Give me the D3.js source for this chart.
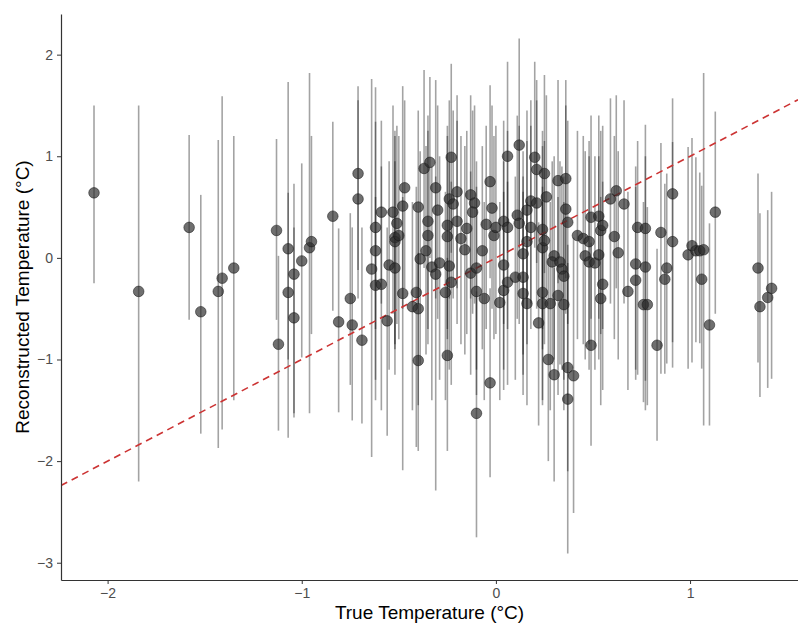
<!DOCTYPE html>
<html>
<head>
<meta charset="utf-8">
<script src="https://cdn.jsdelivr.net/npm/d3@7"></script>
<style>
  body { margin: 0; background: #fff; }
  svg { display: block; font-family: "Liberation Sans", Arial, Helvetica, sans-serif; }
  .tick text { fill: #4d4d4d; font-size: 14px; }
  .tick line, .domain { stroke: #333; }
</style>
</head>
<body>
<div class="container"></div>
<script>
// true temperature anomaly (x), reconstructed value (y) and its interval
var trueTemp = [
  -2.07, -1.84, -1.58, -1.52, -1.43, -1.41, -1.35, -1.13, -1.12, -1.07, -1.07, -1.04, -1.04, -1.00, -0.96, -0.95,
  -0.84, -0.81, -0.75, -0.74, -0.71, -0.71, -0.69, -0.64, -0.62, -0.62, -0.62, -0.59, -0.59, -0.56, -0.55, -0.53,
  -0.52, -0.52, -0.52, -0.51, -0.50, -0.48, -0.48, -0.47, -0.43, -0.41, -0.40, -0.40, -0.39, -0.40, -0.37, -0.34,
  -0.36, -0.35, -0.35, -0.31, -0.33, -0.30, -0.29, -0.31, -0.26, -0.25, -0.25, -0.25, -0.24, -0.24, -0.23, -0.23,
  -0.22, -0.20, -0.20, -0.18, -0.16, -0.15, -0.13, -0.13, -0.11, -0.12, -0.10, -0.10, -0.10, -0.07, -0.06, -0.05,
  -0.03, -0.02, -0.03, -0.01, 0.00, 0.02, 0.04, 0.04, 0.04, 0.06, 0.06, 0.06, 0.10, 0.11, 0.12, 0.12,
  0.14, 0.14, 0.14, 0.16, 0.16, 0.16, 0.18, 0.18, 0.20, 0.21, 0.21, 0.22, 0.24, 0.24, 0.24, 0.24,
  0.25, 0.25, 0.26, 0.27, 0.28, 0.30, 0.29, 0.30, 0.32, 0.32, 0.33, 0.34, 0.35, 0.35, 0.36, 0.36,
  0.37, 0.37, 0.37, 0.40, 0.42, 0.45, 0.46, 0.48, 0.48, 0.49, 0.49, 0.51, 0.53, 0.53, 0.54, 0.55,
  0.55, 0.54, 0.59, 0.61, 0.62, 0.63, 0.66, 0.68, 0.73, 0.77, 0.72, 0.77, 0.72, 0.76, 0.78, 0.83,
  0.85, 0.91, 0.91, 0.88, 0.87, 0.99, 1.01, 1.03, 1.05, 1.07, 1.06, 1.10, 1.13, 1.35, 1.36, 1.40, 1.42
];
var reconTemp = [
  0.64, -0.33, 0.30, -0.53, -0.33, -0.20, -0.10, 0.27, -0.85, 0.09, -0.34, -0.16, -0.59, -0.03, 0.10, 0.16,
  0.41, -0.63, -0.40, -0.66, 0.83, 0.58, -0.81, -0.11, 0.07, 0.30, -0.27, -0.26, 0.45, -0.62, -0.07, 0.45,
  0.20, 0.16, -0.10, 0.34, 0.22, -0.35, 0.51, 0.69, -0.48, -0.34, 0.50, -1.01, -0.01, -0.50, 0.88, 0.94,
  0.07, 0.36, 0.22, 0.69, -0.09, 0.47, -0.05, -0.16, -0.34, -0.96, 0.32, 0.21, 0.58, -0.08, 0.99, -0.24,
  0.53, 0.65, 0.36, 0.19, 0.08, 0.29, 0.62, -0.15, 0.54, 0.45, -0.10, -0.33, -1.53, 0.07, -0.40, 0.33,
  0.75, 0.49, -1.23, 0.22, 0.30, -0.44, -0.32, 0.36, -0.07, 1.00, 0.30, -0.24, -0.19, 0.42, 1.11, 0.34,
  -0.19, -0.35, 0.04, 0.47, 0.16, -0.45, 0.56, 0.30, 0.99, 0.87, 0.54, -0.64, -0.34, 0.28, 0.10, -0.45,
  0.83, 0.17, 0.60, -1.00, -0.45, 0.02, -0.04, -1.15, 0.76, -0.37, -0.04, -0.11, -0.46, -0.18, 0.78, 0.48,
  0.35, -1.08, -1.39, -1.16, 0.22, 0.19, 0.02, 0.16, -0.04, 0.40, -0.86, -0.05, 0.41, 0.03, 0.27, 0.32,
  -0.26, -0.40, 0.58, 0.21, 0.66, 0.05, 0.53, -0.33, 0.30, 0.29, -0.06, -0.09, -0.22, -0.46, -0.46, -0.86,
  0.25, 0.16, 0.63, -0.10, -0.21, 0.03, 0.12, 0.07, 0.07, 0.08, -0.21, -0.66, 0.45, -0.10, -0.48, -0.39, -0.30
];
var lowerCI = [
  -0.25, -2.20, -0.61, -1.73, -1.87, -1.69, -1.40, -0.61, -1.70, -1.00, -1.77, -1.57, -1.53, -0.98, -1.53, -0.75,
  -0.52, -1.52, -1.25, -1.60, -0.12, -0.40, -1.63, -1.96, -1.40, -0.70, -1.20, -1.50, -0.45, -1.75, -1.10, -0.55,
  -0.85, -0.90, -1.15, -0.65, -0.80, -2.09, -0.50, -0.30, -1.50, -1.86, -0.45, -1.90, -1.05, -1.45, -0.10, 0.00,
  -0.95, -0.70, -0.85, -0.40, -1.40, -0.60, -1.20, -2.29, -1.40, -1.90, -0.70, -0.80, -0.40, -1.10, 0.05, -1.25,
  -0.40, -0.30, -0.65, -0.85, -0.95, -0.75, -0.40, -1.15, -0.45, -0.55, -1.10, -1.35, -2.75, -0.90, -1.40, -0.70,
  -0.20, -0.50, -2.16, -0.80, -0.75, -1.40, -1.30, -0.65, -1.10, 0.05, -0.70, -1.25, -1.20, -0.60, 0.10, -0.65,
  -1.15, -1.35, -0.95, -0.50, -0.85, -1.45, -0.45, -0.70, 0.10, -0.05, -0.50, -1.65, -1.40, -0.70, -0.90, -1.45,
  -0.15, -0.85, -0.40, -2.00, -1.50, -1.00, -1.05, -2.20, -0.25, -1.35, -1.05, -1.10, -1.50, -1.20, -0.20, -0.55,
  -0.65, -2.10, -2.91, -2.51, -0.80, -0.85, -1.00, -0.85, -1.10, -0.60, -1.85, -1.10, -0.60, -1.00, -0.75, -0.70,
  -1.30, -1.45, -0.45, -0.80, -0.30, -1.00, -0.45, -1.30, -1.15, -1.21, -1.10, -1.50, -1.20, -1.42, -1.45, -1.80,
  -1.14, -1.08, -0.83, -1.04, -1.14, -1.09, -1.03, -0.83, -0.84, -1.65, -1.09, -1.65, -0.55, -1.03, -1.37, -1.28, -1.19
];
var upperCI = [
  1.50, 1.50, 1.21, 0.62, 1.16, 1.59, 1.20, 1.17, 0.02, 1.73, 0.64, 0.73, 0.30, 0.93, 1.82, 1.20,
  1.34, 0.29, 0.44, 0.30, 1.69, 1.55, 0.30, 1.76, 1.68, 1.34, 0.60, 0.90, 1.35, 0.30, 0.95, 1.50,
  1.25, 1.20, 0.95, 1.30, 1.20, 0.60, 1.69, 1.55, 0.55, 0.70, 1.45, 0.05, 1.05, 0.45, 1.85, 1.78,
  1.10, 1.40, 1.25, 1.75, 0.90, 1.50, 1.00, 0.80, 0.65, 0.00, 1.30, 1.20, 1.55, 0.95, 1.91, 0.75,
  1.45, 1.60, 1.35, 1.20, 1.10, 1.25, 1.60, 0.85, 1.50, 1.45, 0.95, 0.70, -0.33, 1.10, 0.55, 1.30,
  1.70, 1.50, -0.30, 1.20, 1.30, 0.55, 0.65, 1.35, 0.95, 1.93, 1.25, 0.75, 0.80, 1.40, 2.16, 1.30,
  0.80, 0.65, 1.05, 1.45, 1.15, 0.55, 1.55, 1.30, 1.93, 1.75, 1.55, 0.35, 0.70, 1.25, 1.10, 0.55,
  1.80, 1.15, 1.60, 0.00, 0.55, 1.00, 0.95, -0.10, 1.75, 0.60, 0.95, 0.90, 0.55, 0.80, 1.75, 1.50,
  1.35, -0.05, 0.13, 0.20, 1.25, 1.20, 1.05, 1.15, 1.00, 1.40, 0.15, 1.00, 1.40, 1.00, 1.25, 1.30,
  0.75, 0.60, 1.57, 1.20, 1.60, 1.05, 1.55, 0.65, 1.15, 1.31, 0.90, 1.00, 0.70, 0.55, 0.50, 0.09,
  1.13, 1.14, 1.57, 0.83, 0.73, 1.09, 1.18, 0.99, 0.84, 1.82, 0.71, 0.34, 1.44, 0.83, 0.44, 0.47, 0.65
];
var xTicks = [-2, -1, 0, 1];
var yTicks = [-3, -2, -1, 0, 1, 2];

var WIDTH = 798,
	HEIGHT = 629,
	LEFT = 61,
	TOP = 14,
	RIGHT = 798,
	BOTTOM = 580;

var points = trueTemp.map(function(x, i) {
	return {x: x, y: reconTemp[i], lo: lowerCI[i], hi: upperCI[i]};
});

var xScale = d3.scaleLinear().domain([-2.24, 1.556]).range([LEFT, RIGHT]);
var yScale = d3.scaleLinear().domain([-3.17, 2.40]).range([BOTTOM, TOP]);

var svg = d3.select('.container').append('svg')
	.attr('width', WIDTH)
	.attr('height', HEIGHT);

svg.append('clipPath').attr('id', 'panel')
	.append('rect')
	.attr('x', LEFT).attr('y', TOP)
	.attr('width', RIGHT - LEFT).attr('height', BOTTOM - TOP);

var panel = svg.append('g').attr('clip-path', 'url(#panel)');

// error bars
panel.selectAll('line.bar')
	.data(points).enter()
	.append('line')
	.attr('class', 'bar')
	.attr('x1', function(d) { return xScale(d.x); })
	.attr('x2', function(d) { return xScale(d.x); })
	.attr('y1', function(d) { return yScale(d.lo); })
	.attr('y2', function(d) { return yScale(d.hi); })
	.attr('stroke', '#000')
	.attr('stroke-opacity', 0.36)
	.attr('stroke-width', 1.6);

// 1:1 line
var dom = xScale.domain();
panel.append('line')
	.attr('x1', xScale(dom[0])).attr('y1', yScale(dom[0]))
	.attr('x2', xScale(dom[1])).attr('y2', yScale(dom[1]))
	.attr('stroke', '#cc3333')
	.attr('stroke-width', 1.6)
	.attr('stroke-dasharray', '7,5');

// points
panel.selectAll('circle')
	.data(points).enter()
	.append('circle')
	.attr('cx', function(d) { return xScale(d.x); })
	.attr('cy', function(d) { return yScale(d.y); })
	.attr('r', 5.3)
	.attr('fill', '#2b2b2b')
	.attr('fill-opacity', 0.68)
	.attr('stroke', '#111')
	.attr('stroke-opacity', 0.5)
	.attr('stroke-width', 1);

// axes
var fmt = d3.format('d');
svg.append('g')
	.attr('transform', 'translate(0,' + BOTTOM + ')')
	.call(d3.axisBottom(xScale).tickValues(xTicks).tickFormat(fmt).tickSize(4).tickSizeOuter(0).tickPadding(4));

svg.append('g')
	.attr('transform', 'translate(' + LEFT + ',0)')
	.call(d3.axisLeft(yScale).tickValues(yTicks).tickFormat(fmt).tickSize(4).tickSizeOuter(0).tickPadding(4));

svg.selectAll('.domain').attr('stroke-width', 1.2);

svg.append('text')
	.attr('x', (LEFT + RIGHT) / 2)
	.attr('y', 619)
	.attr('text-anchor', 'middle')
	.attr('font-size', 19)
	.attr('fill', '#000')
	.text('True Temperature (°C)');

svg.append('text')
	.attr('transform', 'translate(29,' + (TOP + BOTTOM) / 2 + ') rotate(-90)')
	.attr('text-anchor', 'middle')
	.attr('font-size', 19)
	.attr('fill', '#000')
	.text('Reconstructed Temperature (°C)');
</script>
</body>
</html>
